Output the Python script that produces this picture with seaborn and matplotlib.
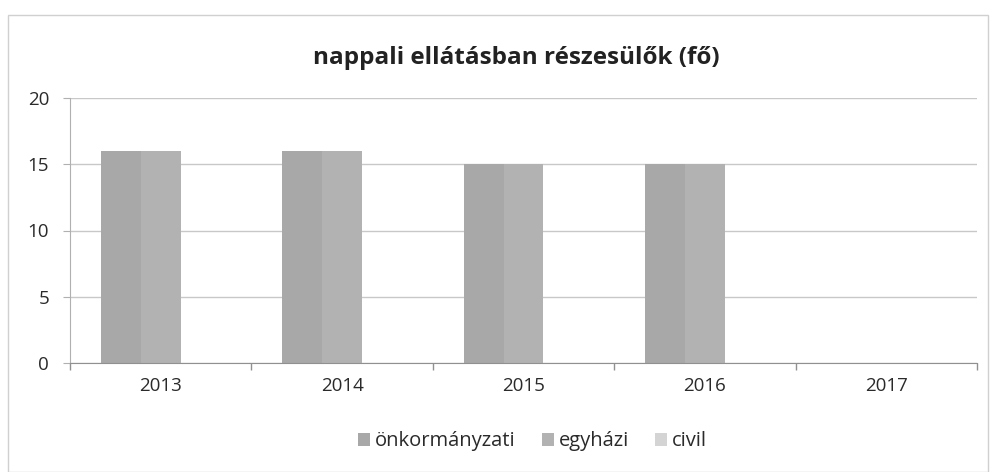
import matplotlib
matplotlib.use("Agg")
import matplotlib.pyplot as plt
import pandas as pd
import seaborn as sns
from matplotlib.patches import Rectangle

years = ["2013", "2014", "2015", "2016", "2017"]
onkormanyzati = [16, 16, 15, 15, 0]
egyhazi = [16, 16, 15, 15, 0]
civil = [0, 0, 0, 0, 0]
series = ["önkormányzati", "egyházi", "civil"]
colors = ["#a8a8a8", "#b2b2b2", "#d4d4d4"]

df = pd.DataFrame({
    "year": years * 3,
    "series": [series[0]] * 5 + [series[1]] * 5 + [series[2]] * 5,
    "value": onkormanyzati + egyhazi + civil,
})

sns.set_style("white")
plt.rcParams["font.family"] = ["Open Sans", "DejaVu Sans"]

fig = plt.figure(figsize=(9.9, 4.72), dpi=100)
ax = fig.add_axes([70 / 990, 1 - 363 / 472, 907 / 990, 265 / 472])

sns.barplot(data=df, x="year", y="value", hue="series", palette=colors,
            width=0.66, ax=ax, legend=True, saturation=1, linewidth=0, edgecolor="none")

ax.set_ylim(0, 20)
ax.set_xlim(-0.5, 4.5)
ax.set_yticks([0, 5, 10, 15, 20])
ax.yaxis.grid(True, color="#c8c8c8", linewidth=1)
ax.set_axisbelow(True)
ax.set_xlabel("")
ax.set_ylabel("")
for s in ["top", "right"]:
    ax.spines[s].set_visible(False)
ax.spines["left"].set_color("#b0b0b0")
ax.spines["bottom"].set_color("#909090")
ax.tick_params(axis="y", left=True, length=5, color="#b0b0b0", labelsize=13.5, labelcolor="#2a2a2a", pad=10)
ax.tick_params(axis="x", length=0, labelsize=13.5, labelcolor="#2a2a2a", pad=10)
# category boundary ticks
ax.set_xticks([i - 0.5 for i in range(6)], minor=True)
ax.tick_params(axis="x", which="minor", bottom=True, length=5, width=1, color="#909090")

ax.legend(loc="upper center", bbox_to_anchor=(0.51, -0.19), ncol=3, frameon=False,
          fontsize=14.5, handlelength=0.6, handleheight=0.6, columnspacing=1.3,
          handletextpad=0.25, labelcolor="#2a2a2a")

fig.text(0.522, 1 - 58 / 472, "nappali ellátásban részesülők (fő)", ha="center", va="center",
         fontsize=17.5, fontweight="bold", color="#222222")

fig.patches.append(Rectangle((8 / 990, 0.0), 980 / 990, 1 - 15 / 472, transform=fig.transFigure,
                             fill=False, edgecolor="#d0d0d0", linewidth=1))

fig.savefig("out.png", dpi=100)
